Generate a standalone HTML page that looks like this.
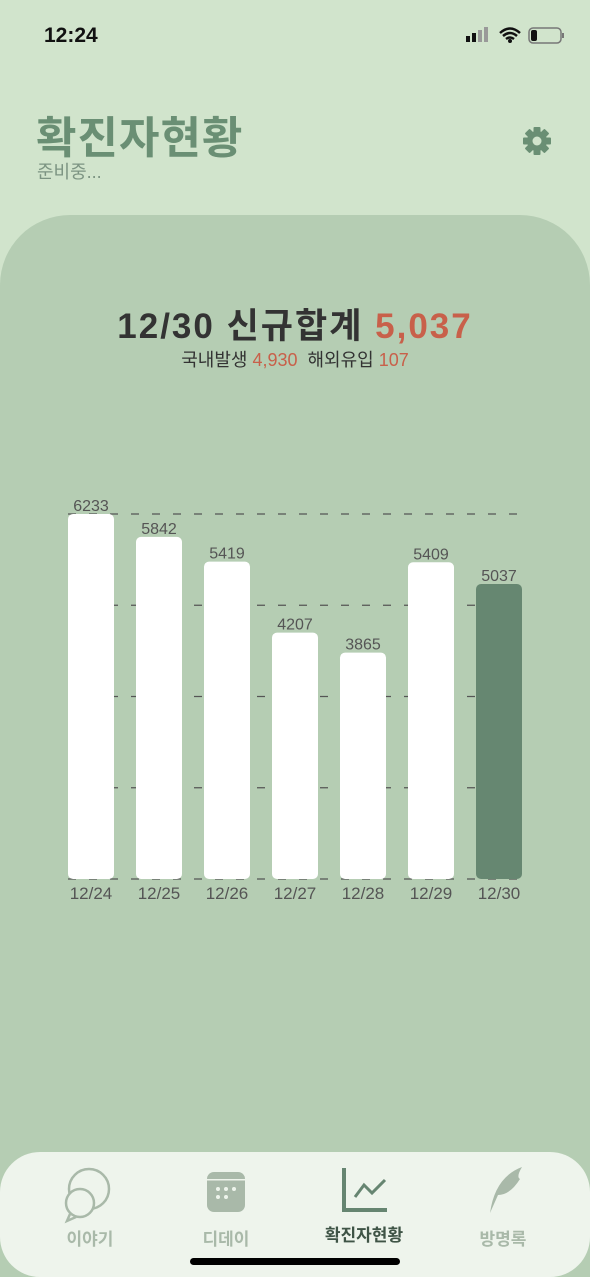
<!DOCTYPE html>
<html style="overflow:hidden"><head><meta charset="utf-8"><style>
html,body{margin:0;width:590px;height:1277px;overflow:hidden}
body{background:#d1e4cc;font-family:"Liberation Sans","Noto Sans CJK KR",sans-serif;position:relative}
.abs{position:absolute}
</style></head><body>
<div class="abs" style="left:44px;top:24px;font-size:21px;font-weight:bold;color:#111">12:24</div>
<svg class="abs" style="left:462px;top:26px" width="108" height="20">
<rect x="4" y="10" width="4" height="6" fill="#111"/><rect x="10" y="7" width="4" height="9" fill="#111"/><rect x="16" y="4" width="4" height="12" fill="#999"/><rect x="22" y="1" width="4" height="15" fill="#999"/>
<path d="M38 7 Q48 -2 58 7 M41 10 Q48 4 55 10 M44 13 Q48 10 52 13" stroke="#111" stroke-width="2.5" fill="none"/><circle cx="48" cy="15" r="2" fill="#111"/>
<rect x="67" y="2" width="32" height="15" rx="4" fill="none" stroke="#777" stroke-width="1.5"/><rect x="69" y="4" width="6" height="11" rx="2" fill="#111"/><rect x="100" y="7" width="2" height="5" fill="#777"/></svg>
<div class="abs" style="left:36px;top:102px;font-size:44px;font-weight:bold;color:#6a8f74;letter-spacing:1px">확진자현황</div>
<div class="abs" style="left:37px;top:158px;font-size:18px;color:#7c9482">준비중...</div>
<svg class="abs" style="left:522px;top:126px" width="30" height="30" viewBox="-15 -15 30 30">
<g fill="#6a8f74"><circle r="10"/>
<rect x="-3.5" y="-14" width="7" height="6" rx="1"/>
<rect x="-3.5" y="-14" width="7" height="6" rx="1" transform="rotate(45)"/><rect x="-3.5" y="-14" width="7" height="6" rx="1" transform="rotate(90)"/><rect x="-3.5" y="-14" width="7" height="6" rx="1" transform="rotate(135)"/><rect x="-3.5" y="-14" width="7" height="6" rx="1" transform="rotate(180)"/><rect x="-3.5" y="-14" width="7" height="6" rx="1" transform="rotate(225)"/><rect x="-3.5" y="-14" width="7" height="6" rx="1" transform="rotate(270)"/><rect x="-3.5" y="-14" width="7" height="6" rx="1" transform="rotate(315)"/></g>
<circle r="4.5" fill="#d1e4cc"/></svg>
<div class="abs" style="left:0;top:215px;width:590px;height:1062px;background:#b5cdb3;border-radius:70px 70px 0 0"></div>
<div class="abs" style="left:0;width:590px;top:298px;text-align:center;font-size:35px;font-weight:bold;color:#333;letter-spacing:2px">12/30 신규합계 <span style="color:#c8604a">5,037</span></div>
<div class="abs" style="left:0;width:590px;top:346px;text-align:center;font-size:18px;color:#333">국내발생 <span style="color:#c8604a">4,930</span>&nbsp; 해외유입 <span style="color:#c8604a">107</span></div>
<svg class="abs" id="chart" style="left:0;top:0" width="590" height="1140"></svg>
<div class="abs" style="left:0;top:1152px;width:590px;height:125px;background:#eef4ec;border-radius:40px"></div>
<svg class="abs" style="left:0;top:1165px" width="590" height="112">
<g fill="none" stroke="#a9b9a9" stroke-width="2.5"><circle cx="89" cy="24" r="20"/><circle cx="80" cy="38" r="14" fill="#eef4ec"/><path d="M70 49 l-3 7 9-4"/></g>
<g><rect x="207" y="7" width="38" height="40" rx="7" fill="#a9b9a9"/><rect x="207" y="14" width="38" height="1.5" fill="#eef4ec"/><g fill="#eef4ec"><circle cx="218" cy="24" r="2"/><circle cx="226" cy="24" r="2"/><circle cx="234" cy="24" r="2"/><circle cx="218" cy="32" r="2"/><circle cx="226" cy="32" r="2"/></g></g>
<g fill="none" stroke="#668571" stroke-width="4"><path d="M344 3 V45 H387"/><path d="M355 32 L364 20 L372 28 L385 15" stroke-width="3"/></g>
<path d="M490 48 Q495 12 522 2 Q516 12 520 14 Q510 30 498 30 Z" fill="#a9b9a9"/>
</svg>
<div class="abs" style="left:40px;width:100px;top:1225px;text-align:center;font-size:17px;font-weight:bold;color:#a9b9a9">이야기</div>
<div class="abs" style="left:176px;width:100px;top:1225px;text-align:center;font-size:17px;font-weight:bold;color:#a9b9a9">디데이</div>
<div class="abs" style="left:314px;width:100px;top:1221px;text-align:center;font-size:17px;font-weight:bold;color:#3f5446">확진자현황</div>
<div class="abs" style="left:453px;width:100px;top:1225px;text-align:center;font-size:17px;font-weight:bold;color:#a9b9a9">방명록</div>
<div class="abs" style="left:190px;top:1258px;width:210px;height:7px;border-radius:4px;background:#000"></div>
<script>
const categories=["12/24","12/25","12/26","12/27","12/28","12/29","12/30"];
const values=[6233,5842,5419,4207,3865,5409,5037];
const gridFractions=[0,0.25,0.5,0.75,1];
const svg=document.getElementById('chart');const NS='http://www.w3.org/2000/svg';
const maxV=Math.max(...values);
const y0=879,y1=514;
const y=v=>y0-(v/maxV)*(y0-y1);
const x=i=>68+i*68;const bw=46;
function mk(t,a){const e=document.createElementNS(NS,t);for(const k in a)e.setAttribute(k,a[k]);svg.appendChild(e);return e;}
gridFractions.forEach(f=>{const l=mk('line',{x1:68,x2:522,y1:y(f*maxV),y2:y(f*maxV),stroke:'#555','stroke-width':1.2,'stroke-dasharray':'8 13'});

});
values.forEach((v,i)=>{const last=i===values.length-1;
const r=mk('rect',{x:x(i),y:y(v),width:bw,height:y0-y(v),rx:5,fill:last?'#668771':'#fff'});


const t=mk('text',{x:x(i)+bw/2,y:y(v)-3,'text-anchor':'middle','font-size':16,fill:'#555','font-family':'Liberation Sans, sans-serif'});t.textContent=v;


const c=mk('text',{x:x(i)+bw/2,y:899,'text-anchor':'middle','font-size':17,fill:'#555','font-family':'Liberation Sans, sans-serif'});c.textContent=categories[i];

});
</script>
</body></html>
